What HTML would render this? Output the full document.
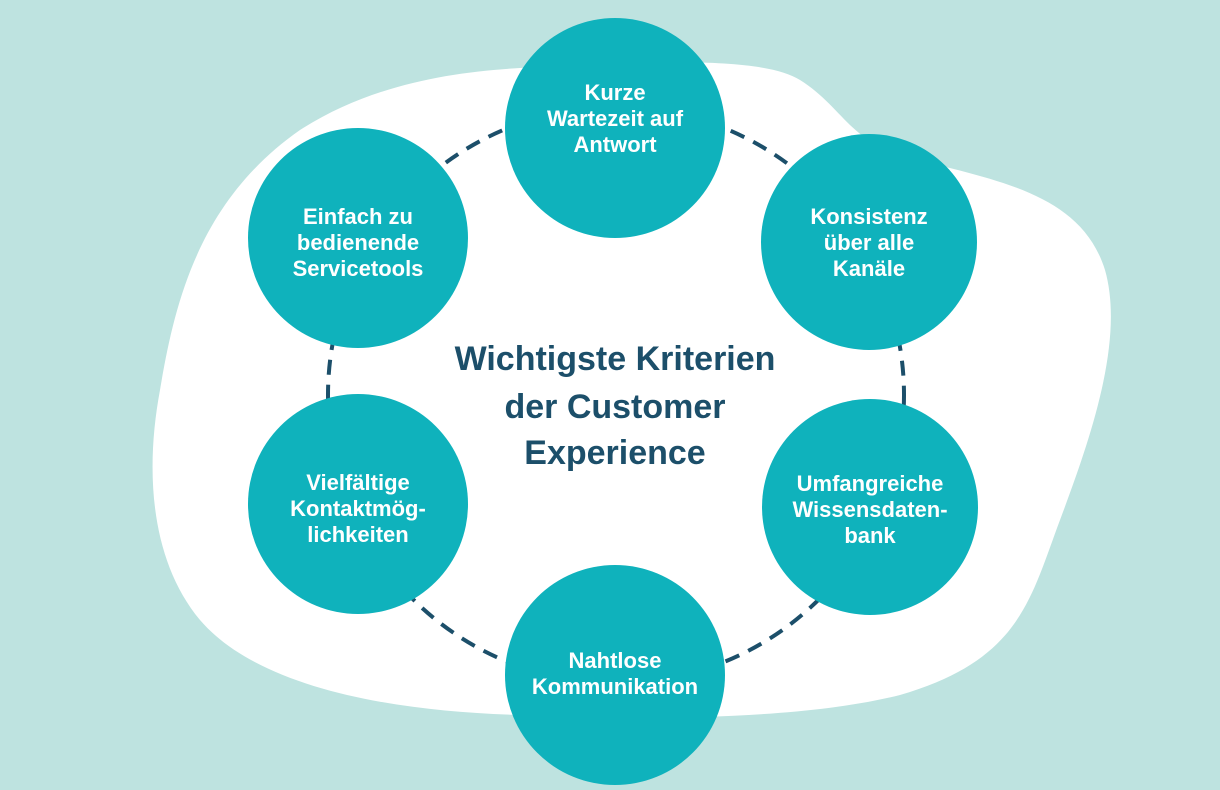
<!DOCTYPE html>
<html><head><meta charset="utf-8"><style>
html,body{margin:0;padding:0;}
body{width:1220px;height:790px;overflow:hidden;background:#bee3e0;font-family:"Liberation Sans",sans-serif;}
svg{display:block}
</style></head><body>
<svg width="1220" height="790" viewBox="0 0 1220 790" xmlns="http://www.w3.org/2000/svg">
<rect width="1220" height="790" fill="#bee3e0"/>
<path d="M520,68 C640,62 760,55 800,80 C840,105 850,140 900,155 C990,180 1080,190 1105,270 C1125,340 1090,440 1060,520 C1030,600 1020,660 900,695 C800,720 650,720 520,715 C400,712 260,690 200,620 C150,560 145,470 160,390 C175,300 200,200 300,130 C370,85 450,72 520,68 Z" fill="#ffffff"/>
<circle cx="616" cy="395" r="288" fill="none" stroke="#1c4f6a" stroke-width="4" stroke-dasharray="15 10"/>
<g fill="#0fb2bc">
<circle cx="615" cy="128" r="110"/>
<circle cx="358" cy="238" r="110"/>
<circle cx="869" cy="242" r="108"/>
<circle cx="358" cy="504" r="110"/>
<circle cx="870" cy="507" r="108"/>
<circle cx="615" cy="675" r="110"/>
</g>
<g fill="#ffffff" font-size="22" font-weight="bold" text-anchor="middle" font-family="Liberation Sans, sans-serif">
<text x="615" y="100">Kurze</text><text x="615" y="126">Wartezeit auf</text><text x="615" y="152">Antwort</text>
<text x="358" y="224">Einfach zu</text><text x="358" y="250">bedienende</text><text x="358" y="276">Servicetools</text>
<text x="869" y="224">Konsistenz</text><text x="869" y="250">über alle</text><text x="869" y="276">Kanäle</text>
<text x="358" y="490">Vielfältige</text><text x="358" y="516">Kontaktmög-</text><text x="358" y="542">lichkeiten</text>
<text x="870" y="491">Umfangreiche</text><text x="870" y="517">Wissensdaten-</text><text x="870" y="543">bank</text>
<text x="615" y="668">Nahtlose</text><text x="615" y="694">Kommunikation</text>
</g>
<g fill="#1c4f6a" font-size="34" font-weight="bold" text-anchor="middle" font-family="Liberation Sans, sans-serif">
<text x="615" y="370">Wichtigste Kriterien</text>
<text x="615" y="418">der Customer</text>
<text x="615" y="464">Experience</text>
</g>
</svg>
</body></html>
